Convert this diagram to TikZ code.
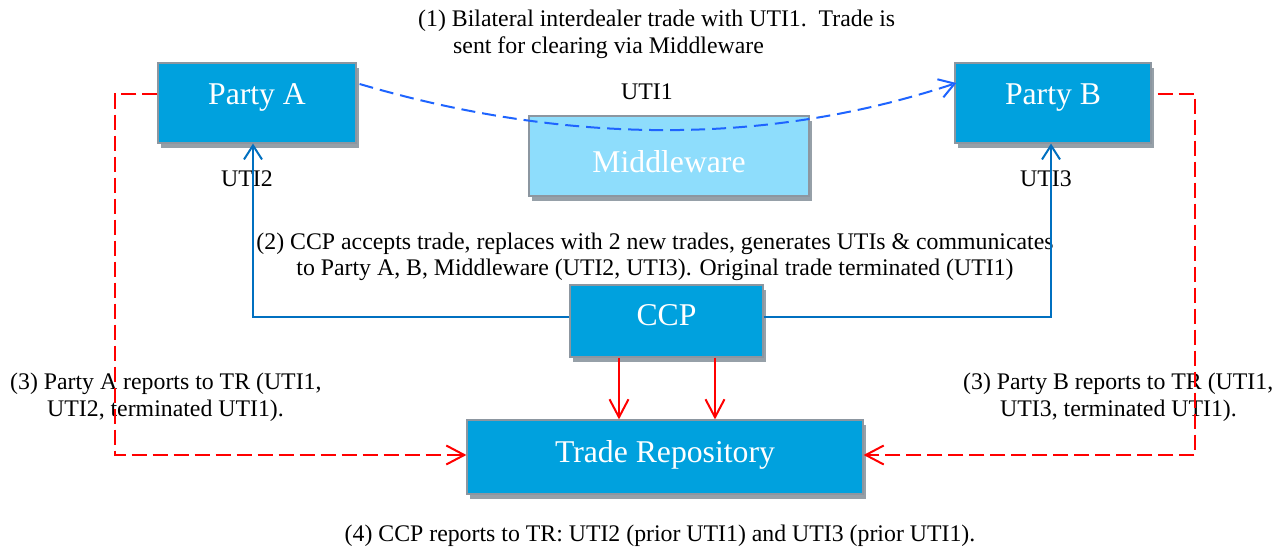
\documentclass[tikz,border=0pt]{standalone}
\usepackage{fontspec}
\setmainfont{Liberation Serif}
\usetikzlibrary{arrows.meta,calc,shadows}
\definecolor{boxblue}{RGB}{0,161,222}
\definecolor{mwblue}{RGB}{142,221,252}
\definecolor{boxline}{RGB}{140,150,160}
\definecolor{shadowgray}{RGB}{150,160,168}
\definecolor{dashblue}{RGB}{30,100,255}
\definecolor{lineblue}{RGB}{0,112,192}
\definecolor{lred}{RGB}{255,0,0}
\begin{document}
\begin{tikzpicture}[x=1pt,y=-1pt,
  box/.style={draw=boxline, line width=1.2pt, fill=boxblue, text=white, inner sep=0pt,
    font=\fontsize{31.7}{38}\selectfont,
    drop shadow={fill=shadowgray, opacity=1, shadow xshift=3pt, shadow yshift=-5pt}},
  note/.style={inner sep=0pt, font=\fontsize{23.8}{27}\selectfont},
  bluedash/.style={draw=dashblue, line width=2pt, dash pattern=on 14pt off 7pt},
  blueline/.style={draw=lineblue, line width=2pt},
  redline/.style={draw=lred, line width=2pt},
  reddash/.style={draw=lred, line width=2pt, dash pattern=on 15pt off 6pt},
  tipA/.style={-{Straight Barb[length=15pt,width=19pt]}},
  tipB/.style={-{Straight Barb[length=14pt,width=18pt]}},
  tipR/.style={-{Straight Barb[length=18pt,width=19pt]}}
]
\fill[white] (0,0) rectangle (1278,548);
\useasboundingbox (0,0) rectangle (1278,548);

% boxes
\node[box, minimum width=198pt, minimum height=80pt, text height=22pt, text depth=18pt] (pa) at (257,103) {Party A};
\node[box, minimum width=196pt, minimum height=80pt, text height=22pt, text depth=18pt] (pb) at (1053,103) {Party B};
\node[box, fill=mwblue, minimum width=280pt, minimum height=80pt, text height=40pt, text depth=6pt] (mw) at (669,156) {Middleware};
\node[box, minimum width=193pt, minimum height=72pt, text height=22pt, text depth=12pt] (ccp) at (666.5,321) {CCP};
\node[box, minimum width=396pt, minimum height=74pt, text height=22pt, text depth=12pt] (tr) at (665,457) {Trade Repository};

% texts (base anchor of a multi-line node = last line's baseline)
\node[note, anchor=base west, align=left] (t1) at (418,54) {(1) Bilateral interdealer trade with UTI1.\ \ Trade is\\\hspace*{35pt}sent for clearing via Middleware};
\node[note, anchor=base, align=center, font=\fontsize{23.8}{26}\selectfont] (t2) at (655,276) {(2) CCP accepts trade, replaces with 2 new trades, generates UTIs \& communicates\\to Party A, B, Middleware (UTI2, UTI3). Original trade terminated (UTI1)};
\node[note, anchor=base west, align=left] (t3a) at (10,416) {(3) Party A reports to TR (UTI1,\\\hspace*{37pt}UTI2, terminated UTI1).};
\node[note, anchor=base west, align=left] (t3b) at (963,416) {(3) Party B reports to TR (UTI1,\\\hspace*{37pt}UTI3, terminated UTI1).};
\node[note, anchor=base] (t4) at (660,541) {(4) CCP reports to TR: UTI2 (prior UTI1) and UTI3 (prior UTI1).};
\node[note, anchor=base] (u1) at (647,100) {UTI1};
\node[note, anchor=base] (u2) at (247,187) {UTI2};
\node[note, anchor=base] (u3) at (1046,187) {UTI3};

% connectors
\draw[bluedash, tipA] ($(pa.east)+(3,-19)$) .. controls +(211,62) and +(-187,62) .. ($(pb.west)+(2,-20)$);
\draw[blueline, tipB] ($(ccp.west)+(0,-4)$) -| ($(pa.south)+(-4,0)$);
\draw[blueline, tipB] ($(ccp.east)+(0,-4)$) -| ($(pb.south)+(-2,0)$);

\coordinate (r1) at (619,0);
\coordinate (r2) at (715,0);
\draw[redline, tipR] (ccp.south -| r1) -- (tr.north -| r1);
\draw[redline, tipR] (ccp.south -| r2) -- (tr.north -| r2);

\coordinate (ka) at (115,94);
\coordinate (kb) at (115,455);
\draw[reddash, tipR] (pa.west |- ka) -- (ka) -- (kb) -- (tr.west |- kb);
\coordinate (kc) at (1195,94);
\coordinate (kd) at (1195,455);
\draw[reddash, tipR] ([xshift=6pt]pb.east |- kc) -- (kc) -- (kd) -- (tr.east |- kd);
\end{tikzpicture}
\end{document}
